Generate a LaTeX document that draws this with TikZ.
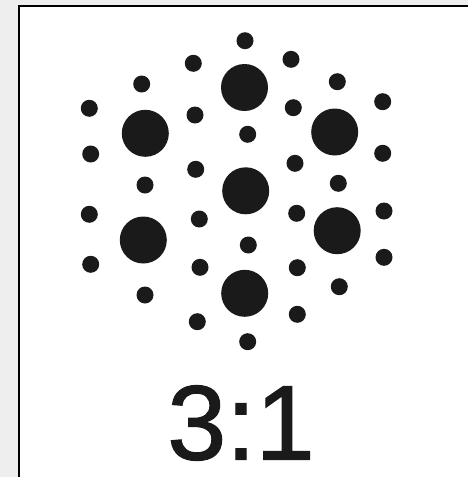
\documentclass[tikz,border=0pt]{standalone}
\usepackage{fontspec}
\setmainfont{Liberation Sans}
\newfontfamily\ratiofont[FakeBold=1.2]{Liberation Sans}
\definecolor{bg}{HTML}{EEEEEE}
\definecolor{ink}{HTML}{1A1A1A}
\begin{document}
\begin{tikzpicture}[x=1pt,y=-1pt,
  bigdot/.style={circle,fill=ink,inner sep=0pt,minimum size=47pt},
  smalldot/.style={circle,fill=ink,inner sep=0pt,minimum size=17pt},
  ratio/.style={font=\ratiofont\fontsize{106}{110}\selectfont,text=ink,inner sep=0pt,text depth=0pt,anchor=base}]
\fill[bg] (0,0) rectangle (468,477);
\useasboundingbox (0,0) rectangle (468,477);
\draw[line width=2.2pt,fill=white] (19,6) rectangle (490,500);
% big dots
\node[bigdot] (b1) at (244.5,87.5) {};
\node[bigdot] (b2) at (145.3,133.3) {};
\node[bigdot] (b3) at (334.7,132) {};
\node[bigdot] (b4) at (245.7,190.8) {};
\node[bigdot] (b5) at (143.3,240) {};
\node[bigdot] (b6) at (337.2,230.7) {};
\node[bigdot] (b7) at (244.7,293.3) {};
% small dots
\node[smalldot] (s1) at (245,40.7) {};
\node[smalldot] (s2) at (193.3,63.3) {};
\node[smalldot] (s3) at (291,59.3) {};
\node[smalldot] (s4) at (141.7,84) {};
\node[smalldot] (s5) at (337.3,81.7) {};
\node[smalldot] (s6) at (89.3,108.3) {};
\node[smalldot] (s7) at (382.7,101.7) {};
\node[smalldot] (s8) at (195,115) {};
\node[smalldot] (s9) at (293.3,107.7) {};
\node[smalldot] (s10) at (247.7,134.3) {};
\node[smalldot] (s11) at (90.7,154) {};
\node[smalldot] (s12) at (382.7,153.3) {};
\node[smalldot] (s13) at (195.7,169.3) {};
\node[smalldot] (s14) at (295,163.3) {};
\node[smalldot] (s15) at (145,185) {};
\node[smalldot] (s16) at (338.3,183.3) {};
\node[smalldot] (s17) at (89.3,214.3) {};
\node[smalldot] (s18) at (384,211) {};
\node[smalldot] (s19) at (199.3,219) {};
\node[smalldot] (s20) at (296.7,213.3) {};
\node[smalldot] (s21) at (248.3,245) {};
\node[smalldot] (s22) at (90.7,264.3) {};
\node[smalldot] (s23) at (384,257.3) {};
\node[smalldot] (s24) at (200,267.3) {};
\node[smalldot] (s25) at (297.3,267.7) {};
\node[smalldot] (s26) at (145,295) {};
\node[smalldot] (s27) at (339.3,286.7) {};
\node[smalldot] (s28) at (197.3,321.7) {};
\node[smalldot] (s29) at (297.3,314.3) {};
\node[smalldot] (s30) at (247.7,341.7) {};
% label
\node[ratio] (lbl) at (241,459.5) {3:1};
\end{tikzpicture}
\end{document}
